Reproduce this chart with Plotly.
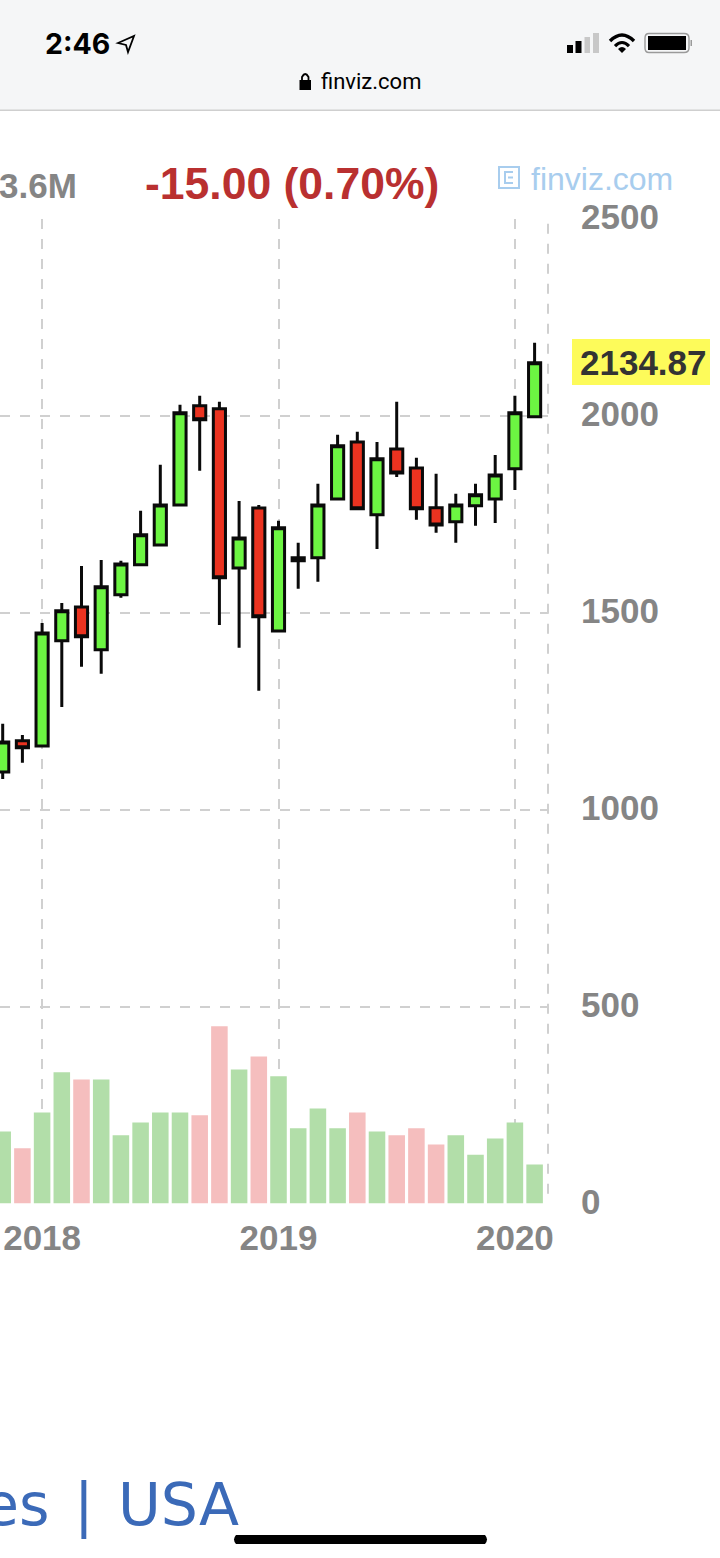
import plotly.graph_objects as go

months = ["2017-11","2017-12","2018-01","2018-02","2018-03","2018-04","2018-05","2018-06","2018-07","2018-08","2018-09","2018-10","2018-11","2018-12",
          "2019-01","2019-02","2019-03","2019-04","2019-05","2019-06","2019-07","2019-08","2019-09","2019-10","2019-11","2019-12","2020-01","2020-02"]
open_  = [1096,1175,1162,1429,1515,1406,1546,1622,1672,1774,2026,2018,1614,1766,1454,1632,1640,1789,1934,1749,1916,1868,1767,1731,1772,1789,1866,1998]
close  = [1172,1157,1449,1505,1439,1566,1624,1698,1774,2008,1990,1589,1690,1490,1716,1640,1774,1924,1764,1891,1855,1764,1723,1774,1800,1850,2008,2135]
high   = [1218,1190,1474,1525,1619,1634,1632,1759,1876,2028,2051,2036,1784,1774,1734,1678,1828,1952,1960,1934,2036,1894,1853,1802,1828,1901,2051,2186]
low    = [1078,1119,1162,1261,1363,1345,1538,1622,1672,1774,1861,1469,1411,1302,1454,1561,1579,1789,1764,1662,1845,1736,1703,1678,1721,1728,1812,1998]
volume = [183,140,231,333,315,315,173,206,231,231,224,450,340,373,323,191,241,191,231,183,173,191,150,173,124,165,206,99]
y_ticks = [0,500,1000,1500,2000,2500]
x_ticks = ["2018-01","2019-01","2020-01"]
x_labels = ["2018","2019","2020"]

W, H = 720, 1558
def px(x): return x / W
def py(y): return 1 - y / H

GRAY = "#858585"
GRID = "#d0d0d0"
AXFONT = dict(family="Liberation Sans", size=35, color=GRAY, weight=700)

vol_colors = ["#B2DEA9" if c >= o else "#F5BEBE" for o, c in zip(open_, close)]

fig = go.Figure()
fig.add_bar(x=months, y=volume, marker=dict(color=vol_colors, line_width=0), width=0.84, showlegend=False, hoverinfo="skip")
fig.add_candlestick(x=months, open=open_, high=high, low=low, close=close, whiskerwidth=0, showlegend=False,
                    increasing=dict(line=dict(color="#0a0a0a", width=3), fillcolor="#6CF542"),
                    decreasing=dict(line=dict(color="#0a0a0a", width=3), fillcolor="#EB3320"))

def rect(x0, y0, x1, y1, fill, line=None, lw=0, layer="above"):
    return dict(type="rect", xref="paper", yref="paper", x0=px(x0), y0=py(y0), x1=px(x1), y1=py(y1),
                fillcolor=fill, line=dict(color=line or fill, width=lw), layer=layer)

def path(points, stroke=None, fill=None, lw=2):
    d = ""
    for cmd, *coords in points:
        if cmd in "ML":
            for i in range(0, len(coords), 2):
                d += f"{cmd}{px(coords[i]):.5f},{py(coords[i+1]):.5f} "
        else:
            d += cmd + " ".join(f"{px(coords[i]):.5f},{py(coords[i+1]):.5f}" for i in range(0, len(coords), 2)) + " "
    return dict(type="path", xref="paper", yref="paper", path=d.strip(), fillcolor=fill or "rgba(0,0,0,0)",
                line=dict(color=stroke or "rgba(0,0,0,0)", width=lw), layer="above")

shapes = [
    rect(0, 0, 720, 110, "#F5F6F7", layer="below"),
    rect(0, 109.5, 720, 111, "#CFCFCF", layer="below"),
    # right-hand dashed border of the chart
    dict(type="line", xref="x domain", yref="y", x0=1, x1=1, y0=25, y1=2500, layer="below",
         line=dict(color=GRID, width=2, dash="10px,10px")),
    # highlighted last price
    rect(572, 339, 710, 385, "#FDFB5A"),
    # signal bars
    rect(567, 45, 573, 53, "#000000"),
    rect(575.5, 41, 581.5, 53, "#000000"),
    rect(584.5, 37, 590, 53, "#C8C8C8"),
    rect(593, 33, 599, 53, "#C8C8C8"),
    # wifi
    path([("M", 610, 41), ("Q", 622, 29, 634, 41)], stroke="#000000", lw=3.4),
    path([("M", 615, 46), ("Q", 622, 39, 629, 46)], stroke="#000000", lw=3.2),
    path([("M", 618, 49), ("L", 622, 53, 626, 49), ("Q", 622, 45, 618, 49), ("Z",)], fill="#000000", lw=0),
    # battery
    path([("M", 649, 33.5), ("L", 684, 33.5), ("Q", 689, 33.5, 689, 38), ("L", 689, 48), ("Q", 689, 52.5, 684, 52.5),
          ("L", 649, 52.5), ("Q", 645, 52.5, 645, 48), ("L", 645, 38), ("Q", 645, 33.5, 649, 33.5), ("Z",)], stroke="#9A9A9A", lw=1.4),
    rect(648, 36, 686, 50, "#000000"),
    rect(690.5, 40, 692, 46, "#9A9A9A"),
    # location arrow
    path([("M", 118, 43), ("L", 134, 36, 128, 52, 126, 45), ("Z",)], stroke="#000000", lw=1.8),
    # lock
    rect(299.5, 80, 311, 90, "#000000"),
    path([("M", 302, 81), ("L", 302, 77), ("Q", 305.2, 71, 308.5, 77), ("L", 308.5, 81)], stroke="#000000", lw=1.8),
    # finviz logo box
    path([("M", 499, 167), ("L", 519, 167, 519, 188, 499, 188), ("Z",)], stroke="#A8CDEE", lw=2),
    path([("M", 513, 172), ("L", 505, 172, 505, 183, 513, 183), ("M", 513, 177.5), ("L", 508, 177.5)], stroke="#A8CDEE", lw=2),
    # home indicator
    path([("M", 236, 1535), ("L", 485, 1535), ("Q", 489, 1539.5, 485, 1544), ("L", 236, 1544), ("Q", 232, 1539.5, 236, 1535), ("Z",)], fill="#000000", lw=0),
]

def note(text, x, y, size, color, family="Liberation Sans", bold=False, anchor="left"):
    t = f"<b>{text}</b>" if bold else text
    return dict(text=t, xref="paper", yref="paper", x=px(x), y=py(y), xanchor=anchor, yanchor="middle",
                showarrow=False, font=dict(family=family, size=size, color=color))

annotations = [
    note("2:46", 43, 43, 28.5, "#000000", family="Inter", bold=True),
    note("finviz.com", 319, 82, 22, "#000000", family="Roboto"),
    note("3.6M", 79, 186, 35, GRAY, bold=True, anchor="right"),
    note("-15.00 (0.70%)", 143, 184, 44.5, "#B93030", bold=True),
    note("finviz.com", 529, 179, 32, "#A8CDEE"),
    note("2134.87", 578, 363, 35, "#333333", bold=True),
    note("es\u200a | \u200aUSA", 241, 1505, 58.5, "#3B6AB8", family="DejaVu Sans", anchor="right"),
]

fig.update_layout(
    width=W, height=H, autosize=False,
    margin=dict(l=0, r=0, t=0, b=0, pad=0, autoexpand=False),
    paper_bgcolor="#FFFFFF", plot_bgcolor="#FFFFFF",
    shapes=shapes, annotations=annotations, showlegend=False,
    barmode="overlay", boxgap=0.12, boxgroupgap=0.3,
    xaxis=dict(type="category", categoryorder="array", categoryarray=months,
               domain=[0, px(548)], range=[-0.137, 27.68],
               rangeslider=dict(visible=False),
               tickmode="array", tickvals=x_ticks, ticktext=x_labels, tickfont=AXFONT, tickangle=0,
               ticks="", ticklabelstandoff=10, showline=False, zeroline=False, automargin=False,
               showgrid=True, gridcolor=GRID, gridwidth=2, griddash="10px,10px"),
    yaxis=dict(domain=[py(1203.5), py(219)], range=[0, 2500], side="right",
               tickmode="array", tickvals=y_ticks, tickfont=AXFONT,
               ticks="", ticklabelstandoff=32, ticklabelshift=-2, showline=False, automargin=False,
               zeroline=True, zerolinecolor="#FFFFFF", zerolinewidth=1,
               showgrid=True, gridcolor=GRID, gridwidth=2, griddash="10px,10px"),
)

fig.write_html("out.html", config=dict(displayModeBar=False),
               post_script="document.body.style.margin='0';document.body.style.overflow='hidden';")
